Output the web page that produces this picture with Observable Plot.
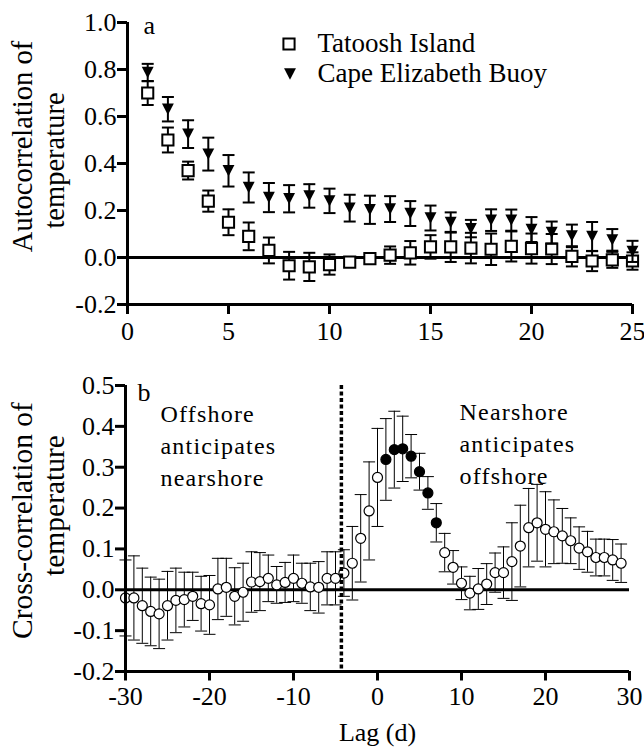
<!DOCTYPE html>
<html><head><meta charset="utf-8">
<script src="https://cdn.jsdelivr.net/npm/d3@7"></script>
<script src="https://cdn.jsdelivr.net/npm/@observablehq/plot@0.6"></script>
<style>
html,body{margin:0;padding:0;background:#fff;}
#chart svg{display:block;}
#chart svg, #chart svg text, #chart svg tspan { font-family: "Liberation Serif", "Times New Roman", serif !important; }
</style></head><body><div id="chart"></div>
<script>
// ---------- Panel a data ----------
const lagsA = [1,2,3,4,5,6,7,8,9,10,11,12,13,14,15,16,17,18,19,20,21,22,23,24,25];
const tatoosh = [0.70,0.50,0.37,0.24,0.15,0.09,0.03,-0.035,-0.04,-0.03,-0.02,-0.005,0.01,0.02,0.045,0.045,0.04,0.035,0.047,0.038,0.036,0.005,-0.015,-0.01,-0.015];
const tatooshErr = [0.051,0.053,0.038,0.045,0.055,0.059,0.055,0.059,0.06,0.043,0.02,0.02,0.037,0.05,0.05,0.064,0.065,0.067,0.064,0.064,0.064,0.043,0.043,0.034,0.037];
const capeElizabeth = [0.787,0.631,0.525,0.44,0.369,0.298,0.255,0.25,0.262,0.241,0.21,0.203,0.206,0.187,0.168,0.149,0.123,0.159,0.159,0.119,0.106,0.092,0.089,0.075,0.026];
const capeErr = [0.037,0.052,0.059,0.07,0.067,0.064,0.062,0.058,0.05,0.052,0.057,0.06,0.055,0.053,0.053,0.043,0.037,0.046,0.045,0.053,0.047,0.048,0.062,0.046,0.045];
const seriesNames = ["Tatoosh Island", "Cape Elizabeth Buoy"];
const xTicksA = [0,5,10,15,20,25];
const yTicksA = [-0.2,0,0.2,0.4,0.6,0.8,1.0];

// ---------- Panel b data ----------
const lagsB = [-30,-29,-28,-27,-26,-25,-24,-23,-22,-21,-20,-19,-18,-17,-16,-15,-14,-13,-12,-11,-10,-9,-8,-7,-6,-5,-4,-3,-2,-1,0,1,2,3,4,5,6,7,8,9,10,11,12,13,14,15,16,17,18,19,20,21,22,23,24,25,26,27,28,29];
const crossCorr = [-0.020,-0.020,-0.039,-0.053,-0.059,-0.039,-0.026,-0.024,-0.016,-0.034,-0.037,0.002,0.006,-0.016,-0.006,0.019,0.020,0.028,0.012,0.018,0.028,0.016,0.007,0.006,0.028,0.028,0.041,
  0.065,0.126,0.193,0.275,0.319,0.343,0.345,0.327,0.289,0.237,0.164,0.091,0.055,0.016,-0.008,0.002,0.014,0.042,0.042,0.069,0.107,0.152,0.164,0.148,0.142,0.132,0.120,0.102,0.093,0.079,0.079,0.073,0.065];
const crossErr = [0.093,0.103,0.092,0.084,0.085,0.084,0.079,0.067,0.059,0.067,0.072,0.075,0.071,0.070,0.071,0.074,0.071,0.057,0.045,0.049,0.057,0.049,0.058,0.063,0.065,0.065,0.057,
  0.09,0.107,0.12,0.12,0.10,0.094,0.08,0.053,0.045,0.04,0.047,0.047,0.041,0.04,0.041,0.05,0.05,0.048,0.063,0.095,0.10,0.096,0.094,0.092,0.078,0.067,0.056,0.052,0.05,0.045,0.045,0.05,0.047];
const filledLags = [1,2,3,4,5,6,7];
const dashedLag = [-4.3];
const xTicksB = [-30,-20,-10,0,10,20,30];
const yTicksB = [-0.2,-0.1,0,0.1,0.2,0.3,0.4,0.5];
const noteLeft = "Offshore\nanticipates\nnearshore";
const noteRight = "Nearshore\nanticipates\noffshore";

// ---------- helpers ----------
const capSym = {draw(ctx, size){ const r = Math.sqrt(size/Math.PI); ctx.moveTo(-r,0); ctx.lineTo(r,0); }};
const triDown = {draw(ctx, size){ const r = Math.sqrt(size/Math.PI); const w = 1.35*r, h = 1.3*r;
  ctx.moveTo(-w,-h); ctx.lineTo(w,-h); ctx.lineTo(0,h); ctx.closePath(); }};
const FONT = "Liberation Serif";

function errMarks(data, sw, capR) {
  return [
    Plot.ruleX(data, {x: "lag", y1: d => d.v - d.e, y2: d => d.v + d.e, stroke: "black", strokeWidth: sw}),
    Plot.dot(data, {x: "lag", y: d => d.v - d.e, symbol: capSym, r: capR, fill: "none", stroke: "black", strokeWidth: sw}),
    Plot.dot(data, {x: "lag", y: d => d.v + d.e, symbol: capSym, r: capR, fill: "none", stroke: "black", strokeWidth: sw})
  ];
}

const dataT = lagsA.map((lag, i) => ({lag, v: tatoosh[i], e: tatooshErr[i]}));
const dataC = lagsA.map((lag, i) => ({lag, v: capeElizabeth[i], e: capeErr[i]}));
const dataB = lagsB.map((lag, i) => ({lag, v: crossCorr[i], e: crossErr[i], filled: filledLags.includes(lag)}));

// ---------- Panel a ----------
const mlA = 127, mtA = 22;
const plotA = Plot.plot({
  width: 644, height: 345,
  marginLeft: mlA, marginRight: 12, marginTop: mtA, marginBottom: 41,
  x: {domain: [0, 25]},
  y: {domain: [-0.2, 1.0]},
  style: {fontFamily: FONT, color: "black", background: "white", overflow: "visible"},
  marks: [
    Plot.ruleY([0], {stroke: "black", strokeWidth: 3}),
    ...errMarks(dataT, 2, 6),
    Plot.dot(dataT, {x: "lag", y: "v", symbol: "square", r: 6.3, fill: "white", stroke: "black", strokeWidth: 2}),
    ...errMarks(dataC, 2, 6),
    Plot.dot(dataC, {x: "lag", y: "v", symbol: triDown, r: 4.4, fill: "black", stroke: "none"}),
    Plot.ruleX([0], {stroke: "black", strokeWidth: 3}),
    Plot.ruleY([-0.2], {stroke: "black", strokeWidth: 3}),
    Plot.axisX(xTicksA, {tickSize: 10, tickPadding: 7, strokeWidth: 3, fontSize: 26, fontFamily: FONT, label: null, tickFormat: d => String(d)}),
    Plot.axisY(yTicksA, {tickSize: 10, tickPadding: 1, strokeWidth: 3, fontSize: 26, fontFamily: FONT, label: null, tickFormat: d => d.toFixed(1)}),
    Plot.text(["a"], {text: d => d, frameAnchor: "top-left", dx: 16, dy: 11, textAnchor: "start", lineAnchor: "bottom", fontSize: 26, fontFamily: FONT}),
    // legend
    Plot.dot([seriesNames[0]], {frameAnchor: "top-left", dx: 288.5 - mlA, dy: 43.5 - mtA, symbol: "square", r: 6.3, fill: "white", stroke: "black", strokeWidth: 2}),
    Plot.dot([seriesNames[1]], {frameAnchor: "top-left", dx: 289.5 - mlA, dy: 73.5 - mtA, symbol: triDown, r: 4.4, fill: "black", stroke: "none"}),
    Plot.text([seriesNames[0]], {text: d => d, frameAnchor: "top-left", dx: 317 - mlA, dy: 51.7 - mtA, textAnchor: "start", lineAnchor: "bottom", fontSize: 27, fontFamily: FONT}),
    Plot.text([seriesNames[1]], {text: d => d, frameAnchor: "top-left", dx: 317 - mlA, dy: 81.7 - mtA, textAnchor: "start", lineAnchor: "bottom", fontSize: 27, fontFamily: FONT}),
    // y title
    Plot.text(["Autocorrelation of"], {text: d => d, frameAnchor: "top-left", dx: 31.7 - mlA, dy: 146 - mtA, rotate: -90, textAnchor: "middle", lineAnchor: "bottom", fontSize: 28.5, fontFamily: FONT}),
    Plot.text(["temperature"], {text: d => d, frameAnchor: "top-left", dx: 63.3 - mlA, dy: 160 - mtA, rotate: -90, textAnchor: "middle", lineAnchor: "bottom", fontSize: 28.5, fontFamily: FONT})
  ]
});

// ---------- Panel b ----------
const topB = 345;
const mlB = 125, mtB = 40;
const plotB = Plot.plot({
  width: 644, height: 403,
  marginLeft: mlB, marginRight: 15, marginTop: mtB, marginBottom: 77,
  x: {domain: [-30, 30]},
  y: {domain: [-0.2, 0.5]},
  style: {fontFamily: FONT, color: "black", background: "white", overflow: "visible"},
  marks: [
    Plot.ruleY([0], {stroke: "black", strokeWidth: 3}),
    ...errMarks(dataB, 1, 6),
    Plot.dot(dataB.filter(d => !d.filled), {x: "lag", y: "v", r: 5, fill: "white", stroke: "black", strokeWidth: 1.2}),
    Plot.dot(dataB.filter(d => d.filled), {x: "lag", y: "v", r: 5, fill: "black", stroke: "black", strokeWidth: 1.2}),
    Plot.ruleX(dashedLag, {stroke: "black", strokeWidth: 3.5, strokeDasharray: "4,2.5"}),
    Plot.ruleX([-30], {stroke: "black", strokeWidth: 3}),
    Plot.ruleY([-0.2], {stroke: "black", strokeWidth: 3}),
    Plot.axisX(xTicksB, {tickSize: 9.5, tickPadding: 6, strokeWidth: 3, fontSize: 26, fontFamily: FONT, label: null, tickFormat: d => String(d)}),
    Plot.axisY(yTicksB, {tickSize: 10, tickPadding: 1, strokeWidth: 3, fontSize: 26, fontFamily: FONT, label: null, tickFormat: d => d.toFixed(1)}),
    Plot.text(["b"], {text: d => d, frameAnchor: "top-left", dx: 137 - mlB, dy: 400 - topB - mtB, textAnchor: "start", lineAnchor: "bottom", fontSize: 26, fontFamily: FONT}),
    Plot.text([noteLeft], {text: d => d, frameAnchor: "top-left", dx: 160 - mlB, dy: 485 - topB - mtB, textAnchor: "start", lineAnchor: "bottom", lineHeight: 1.32, fontSize: 24, fontFamily: FONT}),
    Plot.text([noteRight], {text: d => d, frameAnchor: "top-left", dx: 459 - mlB, dy: 483.3 - topB - mtB, textAnchor: "start", lineAnchor: "bottom", lineHeight: 1.32, fontSize: 24, fontFamily: FONT}),
    Plot.text(["Cross-correlation of"], {text: d => d, frameAnchor: "top-left", dx: 31.7 - mlB, dy: 520 - topB - mtB, rotate: -90, textAnchor: "middle", lineAnchor: "bottom", fontSize: 29.5, fontFamily: FONT}),
    Plot.text(["temperature"], {text: d => d, frameAnchor: "top-left", dx: 63.3 - mlB, dy: 505 - topB - mtB, rotate: -90, textAnchor: "middle", lineAnchor: "bottom", fontSize: 29.5, fontFamily: FONT}),
    Plot.text(["Lag (d)"], {text: d => d, frameAnchor: "bottom", dy: 740 - (topB + 403 - 77), lineAnchor: "bottom", fontSize: 26, fontFamily: FONT})
  ]
});

d3.select(plotB).selectAll("text").filter(function(){ return /anticipates/.test(this.textContent); })
  .style("letter-spacing", "1.2px");

const chart = document.getElementById("chart");
chart.appendChild(plotA);
chart.appendChild(plotB);
</script>
</body></html>
